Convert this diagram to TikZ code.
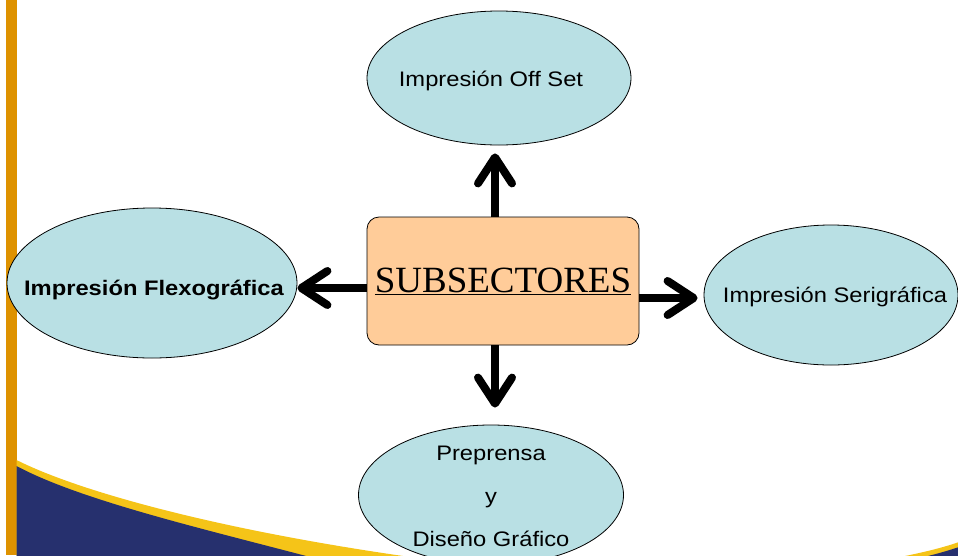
\documentclass[tikz,border=0pt]{standalone}
\usepackage{fontspec}
\usetikzlibrary{shapes.geometric,arrows.meta}
\newfontfamily\arialx[FakeStretch=1.13]{Liberation Sans}
\newfontfamily\timesx{Liberation Serif}
\definecolor{barorange}{RGB}{222,146,0}
\definecolor{navy}{RGB}{38,48,110}
\definecolor{gold}{RGB}{245,196,24}
\definecolor{ellfill}{RGB}{185,224,228}
\definecolor{boxfill}{RGB}{255,204,153}
\tikzset{
  ell/.style={ellipse, draw=black, line width=0.8pt, fill=ellfill, inner sep=0pt},
  lbl/.style={font=\arialx\fontsize{21}{43}\selectfont, inner sep=0pt, align=center},
  centerbox/.style={rectangle, rounded corners=12pt, draw=black, line width=0.8pt, fill=boxfill,
    minimum width=272pt, minimum height=128pt, inner sep=0pt, font=\timesx\fontsize{37}{40}\selectfont},
  arr/.style={line width=8pt, -{Straight Barb[length=26pt,width=34pt,round]}}
}
\begin{document}
\begin{tikzpicture}[x=1pt,y=-1pt]
\useasboundingbox (0,0) rectangle (958,555);
\fill[white] (0,0) rectangle (958,555);
% background decoration
\fill[barorange] (6,0) rectangle (16.5,555);
\fill[gold] (16.5,460) .. controls (80,492) and (220,530) .. (410,557) -- (410,560) -- (16.5,560) -- cycle;
\fill[navy] (16.5,466) .. controls (80,500) and (200,528) .. (310,557) -- (16.5,557) -- cycle;
\fill[gold] (905,556) .. controls (925,552) and (945,547) .. (959,542) -- (959,556) -- cycle;
\fill[navy] (928,556) .. controls (940,553) and (950,550) .. (959,547) -- (959,556) -- cycle;
% nodes
\node[ell, minimum width=264pt, minimum height=134pt] (top) at (499,78) {};
\node[ell, minimum width=290pt, minimum height=150pt] (left) at (152,283) {};
\node[ell, minimum width=254pt, minimum height=140pt] (right) at (831,295) {};
\node[ell, minimum width=265pt, minimum height=140pt] (bottom) at (491,495) {};
\node[centerbox] (center) at (503,281) {\raisebox{-3pt}{\underline{SUBSECTORES}}};
\node[lbl, anchor=base] (toptext) at (491,86) {Impresión Off Set};
\node[lbl, anchor=base, font=\arialx\bfseries\fontsize{21}{43}\selectfont] (lefttext) at (154,295) {Impresión Flexográfica};
\node[lbl, anchor=base] (righttext) at (835,302) {Impresión Serigráfica};
\node[lbl] (bottomtext) at (491,496) {Preprensa\\y\\Diseño Gráfico};
% connectors
\draw[arr, shorten >=8pt] ([xshift=-8pt]center.north) -- ([xshift=-8pt]center.north |- top.south);
\draw[arr, shorten >=17pt] ([xshift=-8pt]center.south) -- ([xshift=-8pt]center.south |- bottom.north);
\draw[arr] ([yshift=-7pt]center.west) -- ([yshift=-7pt]center.west -| left.east);
\draw[arr, shorten >=6pt] ([yshift=-17pt]center.east) -- ([yshift=-17pt]center.east -| right.west);
\end{tikzpicture}
\end{document}
